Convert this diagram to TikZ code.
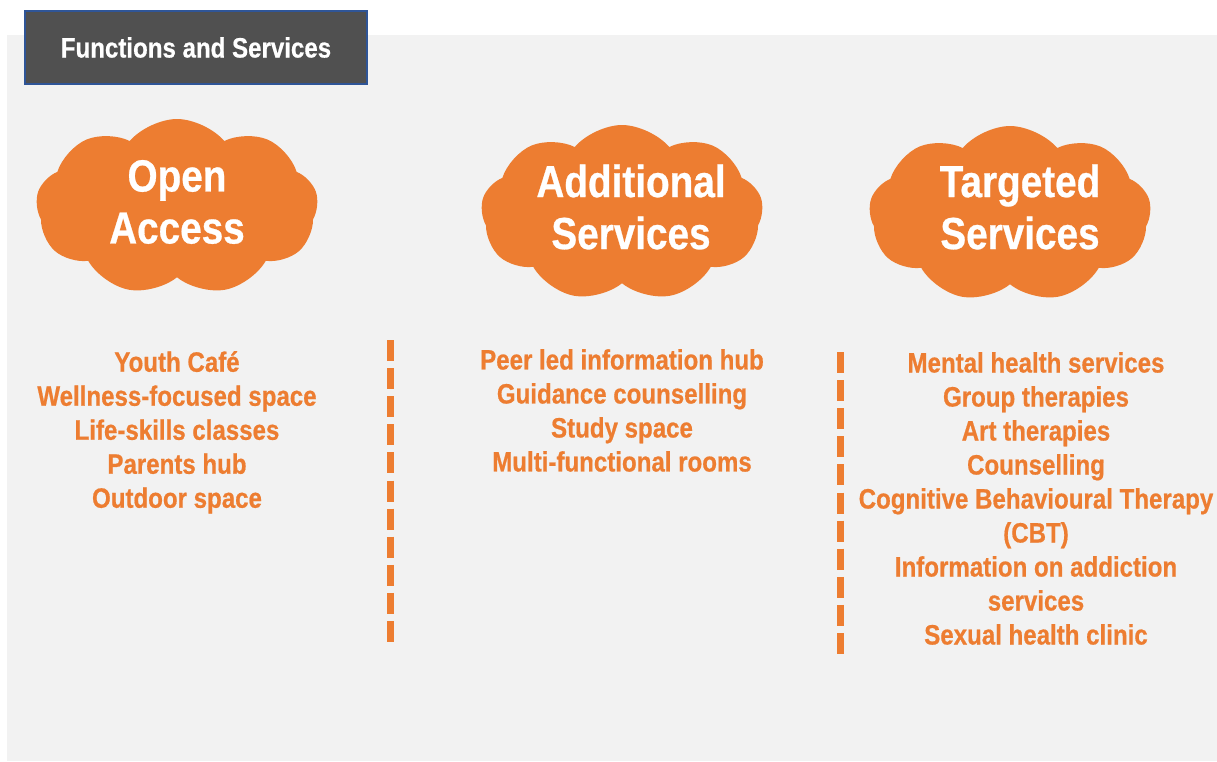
\documentclass[tikz,border=0pt]{standalone}
\usepackage{fontspec}
\usepackage{tikz}
\usetikzlibrary{shapes.symbols}
\newfontfamily\impact[FakeStretch=0.86,FakeBold=0.6]{Liberation Sans}
\definecolor{svcorange}{HTML}{ED7D31}
\definecolor{hdrgray}{HTML}{505050}
\definecolor{hdrblue}{HTML}{2F5597}
\definecolor{panel}{HTML}{F2F2F2}
\tikzset{puff/.style={cloud,cloud puffs=9,cloud puff arc=100,aspect=1.6,fill=svcorange,minimum width=282pt,minimum height=176pt,inner sep=0pt}}
\tikzset{head/.style={text=white,align=center,inner sep=0pt,font=\impact\bfseries\fontsize{45}{52}\selectfont}}
\tikzset{items/.style={text=svcorange,align=center,anchor=north,inner sep=0pt,font=\impact\bfseries\fontsize{28}{34}\selectfont}}
\tikzset{divider/.style={svcorange,line width=7pt,dash pattern=on 21pt off 7.1pt}}

\begin{document}
\begin{tikzpicture}[x=1pt,y=-1pt]
    \useasboundingbox (0,0) rectangle (1217,761);
    \fill[panel] (7,35) rectangle (1217,761);

    % header tab
    \node[fill=hdrgray,draw=hdrblue,line width=1.5pt,minimum width=342pt,minimum height=73pt,
          text=white,font=\impact\bfseries\fontsize{28}{34}\selectfont] (title) at (196,47.5) {Functions and Services};

    % the three clouds
    \node[puff] (open) at (177,207) {};
    \node[puff] (extra) at (622,213) {};
    \node[puff] (target) at (1010,214) {};
    \node[head] (openlbl) at (177,202) {Open\\Access};
    \node[head] (extralbl) at (631,207) {Additional\\Services};
    \node[head] (targetlbl) at (1020,207) {Targeted\\Services};

    % lists under each cloud
    \node[items] (openlist) at (177,351) {Youth Café\\Wellness-focused space\\Life-skills classes\\Parents hub\\Outdoor space};
    \node[items] (extralist) at (622,349) {Peer led information hub\\Guidance counselling\\Study space\\Multi-functional rooms};
    \node[items] (targetlist) at (1036,352) {Mental health services\\Group therapies\\Art therapies\\Counselling\\Cognitive Behavioural Therapy\\(CBT)\\Information on addiction\\services\\Sexual health clinic};

    % dashed dividers
    \draw[divider] (390,340) -- (390,642);
    \draw[divider] (840,352) -- (840,655);
\end{tikzpicture}
\end{document}
